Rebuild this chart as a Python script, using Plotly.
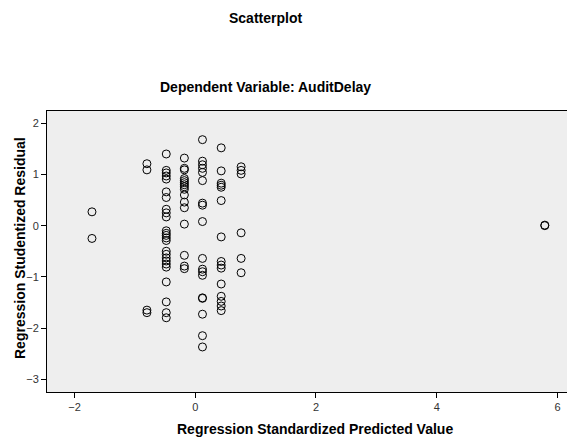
import plotly.graph_objects as go

# Data: (predicted value column, studentized residuals)
col_x = [-1.71, -0.80, -0.48, -0.18, 0.12, 0.43, 0.76, 5.79]
col_y = [
    [0.27, -0.25],
    [1.21, 1.09, -1.65, -1.70],
    [1.40, 1.08, 1.03, 0.97, 0.91, 0.66, 0.55, 0.32, 0.25, 0.17, -0.10, -0.15,
     -0.19, -0.24, -0.29, -0.50, -0.56, -0.63, -0.69, -0.75, -0.81, -1.10,
     -1.49, -1.70, -1.80],
    [1.32, 1.12, 1.09, 0.92, 0.88, 0.84, 0.80, 0.76, 0.71, 0.60, 0.46, 0.35,
     0.03, -0.58, -0.79, -0.84],
    [1.68, 1.26, 1.19, 1.12, 1.04, 0.88, 0.44, 0.40, 0.08, -0.64, -0.85, -0.90,
     -0.97, -1.41, -1.42, -1.73, -2.15, -2.37],
    [1.52, 1.07, 0.83, 0.79, 0.75, 0.49, -0.22, -0.70, -0.77, -0.83, -1.14,
     -1.38, -1.48, -1.57, -1.66],
    [1.15, 1.08, 1.01, -0.14, -0.64, -0.92],
    [0.00, 0.01],
]

x_ticks = [-2, 0, 2, 4, 6]
y_ticks = [-3, -2, -1, 0, 1, 2]

xs, ys = [], []
for cx, cy in zip(col_x, col_y):
    for v in cy:
        xs.append(cx)
        ys.append(v)

FONT = "Liberation Sans, Arial, sans-serif"

fig = go.Figure()
fig.add_trace(go.Scatter(
    x=xs, y=ys, mode="markers",
    marker=dict(symbol="circle-open", size=8, color="black", line=dict(width=1, color="black")),
    showlegend=False, hoverinfo="x+y",
))

fig.update_layout(
    width=567, height=429,
    margin=dict(l=39, r=0, t=103, b=45),
    paper_bgcolor="white",
    plot_bgcolor="#EEEEEE",
    font=dict(family=FONT, color="#333333", size=11),
    xaxis=dict(range=[-2.455, 6.29], tickvals=x_ticks, ticks="outside", ticklen=5,
               tickcolor="black", showgrid=False, zeroline=False, showline=True,
               linecolor="black", linewidth=1, mirror=True,
               tickfont=dict(size=11, color="#333333")),
    yaxis=dict(range=[-3.25, 2.24], tickvals=y_ticks, ticks="outside", ticklen=5,
               tickcolor="black", showgrid=False, zeroline=False, showline=True,
               linecolor="black", linewidth=1, mirror=False,
               tickfont=dict(size=11, color="#333333")),
    annotations=[
        dict(text="<b>Scatterplot</b>", xref="paper", yref="paper", x=0.4138, y=1.331,
             xanchor="center", yanchor="middle", showarrow=False,
             font=dict(family=FONT, size=14, color="black")),
        dict(text="<b>Dependent Variable: AuditDelay</b>", xref="paper", yref="paper",
             x=0.4138, y=1.0854, xanchor="center", yanchor="middle", showarrow=False,
             font=dict(family=FONT, size=14, color="black")),
        dict(text="<b>Regression Standardized Predicted Value</b>", xref="paper", yref="paper",
             x=0.5076, y=(384 - 421) / 281, xanchor="center", yanchor="middle", showarrow=False,
             font=dict(family=FONT, size=14, color="black")),
        dict(text="<b>Regression Studentized Residual</b>", xref="paper", yref="paper",
             x=(12 - 39) / 528, y=(384 - 240) / 281, xanchor="center", yanchor="middle",
             showarrow=False, textangle=-90,
             font=dict(family=FONT, size=14, color="black")),
    ],
)

fig.write_html("out.html")
